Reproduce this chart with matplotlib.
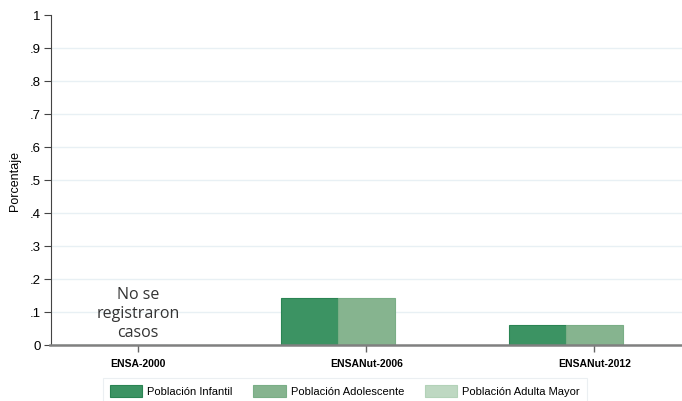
import numpy as np
import matplotlib
matplotlib.use("Agg")
import matplotlib.pyplot as plt
from matplotlib.patches import Patch

encuestas = ["ENSA-2000", "ENSANut-2006", "ENSANut-2012"]
series = ["Población Infantil", "Población Adolescente", "Población Adulta Mayor"]
infantil = [0.0, 0.14, 0.06]
adolescente = [0.0, 0.14, 0.06]
adulta_mayor = [0.0, 0.0, 0.0]
yticks = [0, .1, .2, .3, .4, .5, .6, .7, .8, .9, 1]
ytick_labels = ["0", ".1", ".2", ".3", ".4", ".5", ".6", ".7", ".8", ".9", "1"]

colores = ["#3c9363", "#86b48f", "#bed8c2"]
bordes = ["#2a8453", "#7aae86", "#b3d2b8"]

plt.rc("font", family="Liberation Sans")
fig = plt.figure(figsize=(6.82, 4.02), dpi=100)
ax = fig.add_axes([50.5 / 682, 56.5 / 402, 1 - 50.5 / 682, 329.5 / 402])

x = np.arange(len(encuestas))
w = 0.25
for i, vals in enumerate([infantil, adolescente, adulta_mayor]):
    ax.bar(x + (i - 1) * w, vals, width=w, color=colores[i],
           edgecolor=bordes[i], linewidth=0.8, zorder=3)

ax.set_xlim(-0.384, 2.384)
ax.set_ylim(0, 1)
ax.set_yticks(yticks)
ax.set_yticklabels(ytick_labels, fontsize=9.5)
ax.set_xticks(x)
ax.set_xticklabels(encuestas, fontsize=7.5, fontweight="bold")
ax.tick_params(axis="x", length=5, color="#666666", width=1, pad=5)
ax.tick_params(axis="y", length=5, color="#444444", width=0.8, pad=2)
ax.set_ylabel("Porcentaje", fontsize=9, labelpad=6)

ax.grid(axis="y", color="#e8f0f4", linewidth=1, zorder=0)
ax.get_ygridlines()[-1].set_visible(False)
ax.set_axisbelow(True)
for s in ["top", "right"]:
    ax.spines[s].set_visible(False)
ax.spines["left"].set_color("#444444")
ax.spines["left"].set_linewidth(0.8)
ax.spines["bottom"].set_color("#808080")
ax.spines["bottom"].set_linewidth(1.8)
ax.spines["bottom"].set_zorder(4)

ax.text(0, 0.096, "No se\nregistraron\ncasos", ha="center", va="center",
        fontsize=11.5, family="Open Sans", color="#333333", linespacing=1.25)

handles = [Patch(facecolor=colores[i], edgecolor=bordes[i], linewidth=0.8) for i in range(3)]
leg = fig.legend(handles, series, loc="upper left", ncol=3,
                 bbox_to_anchor=(103 / 682, 1 - 379 / 402),
                 fontsize=8, frameon=True, fancybox=False,
                 handlelength=2.9, handleheight=1.3, handletextpad=0.45,
                 columnspacing=1.9, borderpad=0.6, borderaxespad=0)
leg.get_frame().set_edgecolor("#e6ecef")
leg.get_frame().set_linewidth(0.8)

plt.savefig("out.png", dpi=100)
